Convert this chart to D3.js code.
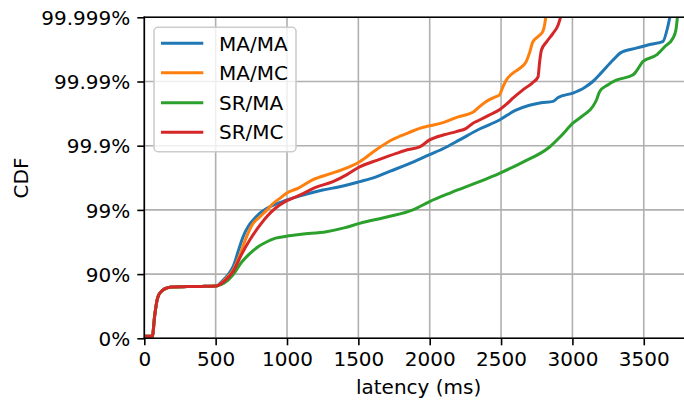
<!DOCTYPE html>
<html><head><meta charset="utf-8">
<script src="https://cdn.jsdelivr.net/npm/d3@7"></script>
<style>
html,body{margin:0;padding:0;background:#fff;}
svg{display:block;font-family:"DejaVu Sans",sans-serif;}
</style></head>
<body>
<svg id="chart" width="684" height="403"></svg>
<script>
// latency (ms) and CDF expressed as "nines" = -log10(1 - CDF)
const seriesNames = ["MA/MA", "MA/MC", "SR/MA", "SR/MC"];
const seriesColors = ["#1f77b4", "#ff7f0e", "#2ca02c", "#d62728"];

const head = [[0,0.03],[57,0.03],[62,0.1],[70,0.3],[80,0.47],[90,0.6],[100,0.67],[115,0.72],[135,0.76],[160,0.785],[200,0.8],[300,0.805],[400,0.808],[505,0.815]];

const maMA = [[550,0.9],[590,1.0],[622,1.115],[660,1.37],[692,1.58],[730,1.75],[762,1.84],[810,1.95],[856,2.02],[920,2.09],[996,2.15],[1080,2.21],[1159,2.26],[1250,2.31],[1369,2.36],[1509,2.44],[1620,2.51],[1719,2.6],[1836,2.7],[1999,2.86],[2100,2.96],[2209,3.09],[2349,3.26],[2489,3.4],[2600,3.55],[2699,3.63],[2780,3.67],[2864,3.69],[2900,3.75],[3003,3.82],[3080,3.9],[3143,4.0],[3200,4.13],[3283,4.33],[3340,4.45],[3447,4.52],[3550,4.58],[3633,4.62],[3668,4.85],[3687,5.05]];

const maMC = [[550,0.88],[590,0.97],[622,1.06],[670,1.3],[716,1.58],[760,1.78],[809,1.89],[860,2.0],[902,2.1],[950,2.18],[996,2.26],[1080,2.34],[1182,2.47],[1300,2.56],[1416,2.65],[1509,2.75],[1620,2.93],[1743,3.1],[1850,3.2],[1929,3.27],[2000,3.31],[2093,3.36],[2200,3.45],[2303,3.52],[2349,3.61],[2396,3.69],[2460,3.76],[2489,3.79],[2510,3.9],[2536,4.02],[2583,4.13],[2640,4.22],[2676,4.31],[2700,4.45],[2723,4.62],[2760,4.7],[2793,4.78],[2805,4.88],[2816,5.05]];

const srMA = [[560,0.86],[622,0.99],[680,1.18],[739,1.32],[800,1.43],[856,1.5],[920,1.56],[996,1.59],[1100,1.62],[1276,1.66],[1400,1.72],[1509,1.79],[1700,1.89],[1882,2.0],[1999,2.13],[2150,2.27],[2349,2.44],[2489,2.57],[2650,2.74],[2840,2.98],[2920,3.15],[3003,3.35],[3080,3.48],[3143,3.61],[3170,3.72],[3190,3.84],[3250,3.95],[3307,4.02],[3423,4.1],[3460,4.2],[3493,4.31],[3587,4.41],[3650,4.55],[3703,4.67],[3725,4.8],[3738,5.05]];

const srMC = [[550,0.87],[590,0.95],[622,1.04],[680,1.3],[739,1.53],[800,1.73],[856,1.89],[920,2.03],[996,2.14],[1089,2.23],[1200,2.35],[1322,2.44],[1420,2.55],[1509,2.67],[1640,2.78],[1766,2.88],[1850,2.94],[1929,2.98],[1999,3.09],[2100,3.17],[2186,3.22],[2256,3.27],[2303,3.35],[2349,3.4],[2420,3.48],[2489,3.56],[2540,3.65],[2583,3.74],[2653,3.87],[2720,3.98],[2759,4.07],[2770,4.3],[2783,4.49],[2820,4.62],[2864,4.75],[2900,4.88],[2923,5.05]];

const xTicks = [0,500,1000,1500,2000,2500,3000,3500];
const yTicks = [0,1,2,3,4,5];
const yTickLabels = ["0%","90%","99%","99.9%","99.99%","99.999%"];

const seriesData = [maMA, maMC, srMA, srMC].map(s => head.concat(s));

const svg = d3.select("#chart");
const L = 144.3, R = 693, T = 17.3, B = 338.3;
const x = d3.scaleLinear().domain([0, 3845]).range([L, R]);
const y = d3.scaleLinear().domain([0, 5]).range([B, T]);
const fs = 20;

svg.append("defs").append("clipPath").attr("id","clip")
  .append("rect").attr("x",L).attr("y",T).attr("width",R-L).attr("height",B-T);

// grid
const g = svg.append("g");
g.selectAll(".vg").data(xTicks).join("line")
  .attr("x1",d=>x(d)).attr("x2",d=>x(d)).attr("y1",T).attr("y2",B)
  .attr("stroke","#b0b0b0").attr("stroke-width",1.6);
g.selectAll(".hg").data(yTicks).join("line")
  .attr("x1",L).attr("x2",R).attr("y1",d=>y(d)).attr("y2",d=>y(d))
  .attr("stroke","#b0b0b0").attr("stroke-width",1.6);

// lines
const line = d3.line().x(d=>x(d[0])).y(d=>y(d[1])).curve(d3.curveMonotoneX);
svg.append("g").attr("clip-path","url(#clip)")
  .selectAll("path").data(seriesData).join("path")
  .attr("d", line).attr("fill","none")
  .attr("stroke",(d,i)=>seriesColors[i]).attr("stroke-width",3)
  .attr("stroke-linejoin","round").attr("stroke-linecap","square");

// axes
const xAxis = d3.axisBottom(x).tickValues(xTicks).tickSize(7).tickPadding(7).tickFormat(d3.format("d"));
const yAxis = d3.axisLeft(y).tickValues(yTicks).tickSize(7).tickPadding(7).tickFormat((d,i)=>yTickLabels[i]);
const gx = svg.append("g").attr("transform",`translate(0,${B})`).call(xAxis);
const gy = svg.append("g").attr("transform",`translate(${L},0)`).call(yAxis);
[gx,gy].forEach(a=>{
  a.select(".domain").remove();
  a.selectAll(".tick line").attr("stroke","#000").attr("stroke-width",1.6);
  a.selectAll(".tick text").attr("font-size",fs).attr("font-family","DejaVu Sans").attr("fill","#000");
});
gx.selectAll(".tick text").attr("dy","0.71em");
gy.selectAll(".tick text").attr("dy","0.36em");

// spines (left, bottom, top; right is off-canvas)
svg.append("line").attr("x1",L).attr("x2",L).attr("y1",T).attr("y2",B).attr("stroke","#000").attr("stroke-width",1.6).attr("stroke-linecap","square");
svg.append("line").attr("x1",L).attr("x2",R).attr("y1",B).attr("y2",B).attr("stroke","#000").attr("stroke-width",1.6).attr("stroke-linecap","square");
svg.append("line").attr("x1",L).attr("x2",R).attr("y1",T).attr("y2",T).attr("stroke","#000").attr("stroke-width",1.6).attr("stroke-linecap","square");

// labels
svg.append("text").attr("x",(L+R)/2).attr("y",394).attr("text-anchor","middle")
  .attr("font-size",fs).text("latency (ms)");
svg.append("text").attr("transform","translate(28,178) rotate(-90)").attr("text-anchor","middle")
  .attr("font-size",fs).text("CDF");

// legend
const lg = svg.append("g");
lg.append("rect").attr("x",154).attr("y",27.3).attr("width",142).attr("height",124.4)
  .attr("rx",4).attr("fill","#fff").attr("fill-opacity",0.8).attr("stroke","#cccccc").attr("stroke-width",1.6);
const ly = [43.3, 72.7, 102.7, 132.2];
seriesNames.forEach((n,i)=>{
  lg.append("line").attr("x1",161).attr("x2",203.3).attr("y1",ly[i]).attr("y2",ly[i])
    .attr("stroke",seriesColors[i]).attr("stroke-width",3);
  lg.append("text").attr("x",219).attr("y",ly[i]).attr("dy","0.36em").attr("font-size",fs).text(n);
});
</script>
</body></html>
